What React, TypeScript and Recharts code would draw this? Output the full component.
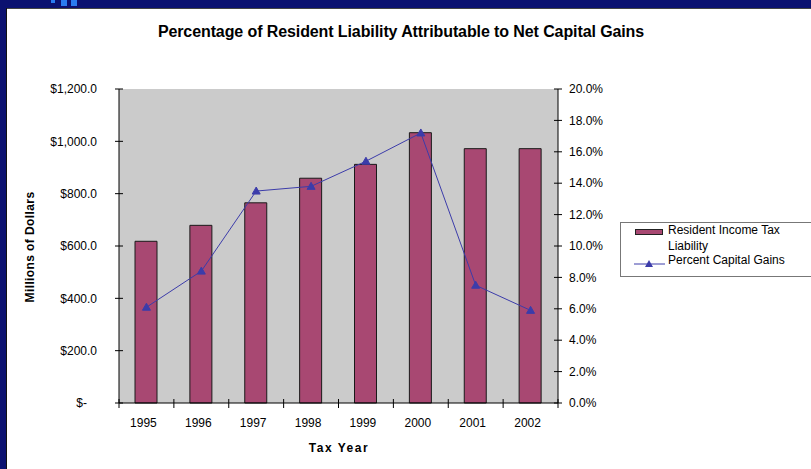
import { Bar, CartesianGrid, ComposedChart, Legend, Line, XAxis, YAxis } from "recharts";

const years = ["1995", "1996", "1997", "1998", "1999", "2000", "2001", "2002"];
const liability = [618, 679, 765, 859, 912, 1033, 972, 972];
const pctGains = [6.1, 8.4, 13.5, 13.8, 15.4, 17.2, 7.5, 5.9];
const dollarTicks = [0, 200, 400, 600, 800, 1000, 1200];
const pctTicks = [0, 2, 4, 6, 8, 10, 12, 14, 16, 18, 20];

const data = years.map((y, i) => ({ year: y, liability: liability[i], pct: pctGains[i] }));

const FONT = '"Liberation Sans", Arial, sans-serif';
const BAR = "#a84872";
const LINE = "#3c3caa";

const fmtDollar = (v: number) =>
  v === 0 ? "$-" : "$" + v.toLocaleString("en-US", { minimumFractionDigits: 1, maximumFractionDigits: 1 });

function LeftTick(props: any) {
  const { x, y, payload } = props;
  return (
    <g>
      <line x1={x - 4} x2={x + 4} y1={y} y2={y} stroke="#000" />
      <text x={x - (payload.value === 0 ? 32 : 22)} y={y} dy="0.35em" textAnchor="end" fontSize={12} fill="#000" fontFamily={FONT}>
        {fmtDollar(payload.value)}
      </text>
    </g>
  );
}

function RightTick(props: any) {
  const { x, y, payload } = props;
  return (
    <g>
      <line x1={x - 4} x2={x + 4} y1={y} y2={y} stroke="#000" />
      <text x={x + 11} y={y} dy="0.35em" textAnchor="start" fontSize={12} fill="#000" fontFamily={FONT}>
        {payload.value.toFixed(1) + "%"}
      </text>
    </g>
  );
}

function YearTick(props: any) {
  const { x, y, payload, index } = props;
  const half = payload.offset || 27.4;
  return (
    <g>
      <line x1={x - half} x2={x - half} y1={y - 4} y2={y + 5} stroke="#000" />
      {index === years.length - 1 && <line x1={x + half} x2={x + half} y1={y - 4} y2={y + 5} stroke="#000" />}
      <text x={x - 3} y={y + 24} textAnchor="middle" fontSize={12} fill="#000" fontFamily={FONT}>
        {payload.value}
      </text>
    </g>
  );
}

function Tri(props: any) {
  const { cx, cy } = props;
  if (cx == null || cy == null) return null;
  return <polygon points={`${cx},${cy - 4} ${cx - 4},${cy + 3} ${cx + 4},${cy + 3}`} fill={LINE} stroke={LINE} />;
}

function LegendBox() {
  return (
    <div
      style={{
        width: 200,
        height: 53,
        border: "1px solid #777",
        background: "#fff",
        fontFamily: FONT,
        fontSize: 12,
        position: "relative",
        color: "#000",
      }}
    >
      <div style={{ position: "absolute", left: 14, top: 6, width: 26, height: 4, background: BAR, border: "1px solid #222" }} />
      <div style={{ position: "absolute", left: 47, top: -1, lineHeight: "16px", width: 130 }}>
        Resident Income Tax
        <br />
        Liability
      </div>
      <svg style={{ position: "absolute", left: 13, top: 36 }} width={32} height={10}>
        <line x1={0} x2={31} y1={5} y2={5} stroke={LINE} />
        <polygon points="15,1 11,8 19,8" fill={LINE} />
      </svg>
      <div style={{ position: "absolute", left: 47, top: 29, lineHeight: "16px" }}>Percent Capital Gains</div>
    </div>
  );
}

export default function App() {
  return (
    <div style={{ position: "absolute", left: 0, top: 0, width: 811, height: 469, background: "#fff", overflow: "hidden", fontFamily: FONT }}>
      <div style={{ position: "absolute", left: 0, top: 0, width: 811, height: 8, background: "#0b1170" }} />
      <div style={{ position: "absolute", left: 0, top: 8, width: 811, height: 1, background: "#444" }} />
      <div style={{ position: "absolute", left: 0, top: 0, width: 6, height: 469, background: "#0b1170" }} />
      <div style={{ position: "absolute", left: 6, top: 8, width: 1, height: 461, background: "#111" }} />
      <div style={{ position: "absolute", left: 51, top: 0, width: 4, height: 3, background: "#2a7cf0" }} />
      <div style={{ position: "absolute", left: 61, top: 0, width: 6, height: 6, background: "#2a7cf0" }} />
      <div style={{ position: "absolute", left: 71, top: 0, width: 6, height: 6, background: "#2a7cf0" }} />

      <div
        style={{
          position: "absolute",
          left: 0,
          width: 802,
          top: 23,
          textAlign: "center",
          fontWeight: "bold",
          fontSize: 16,
          letterSpacing: -0.1,
          color: "#000",
        }}
      >
        Percentage of Resident Liability Attributable to Net Capital Gains
      </div>

      <div style={{ position: "absolute", left: 0, top: 0 }}>
        <ComposedChart width={811} height={469} data={data} margin={{ top: 89, right: 203, bottom: 36, left: 59 }}>
          <CartesianGrid fill="#cbcbcb" stroke="none" horizontal={false} vertical={false} />
          <XAxis dataKey="year" tickLine={false} tickSize={0} tickMargin={0} height={30} axisLine={{ stroke: "#000" }} tick={<YearTick />} interval={0} />
          <YAxis
            yAxisId="left"
            domain={[0, 1200]}
            ticks={dollarTicks}
            width={60}
            tickLine={false}
            tickSize={0}
            tickMargin={0}
            axisLine={{ stroke: "#000" }}
            tick={<LeftTick />}
          />
          <YAxis
            yAxisId="right"
            orientation="right"
            domain={[0, 20]}
            ticks={pctTicks}
            width={50}
            tickLine={false}
            tickSize={0}
            tickMargin={0}
            axisLine={{ stroke: "#000" }}
            tick={<RightTick />}
          />
          <Legend
            layout="vertical"
            align="center"
            verticalAlign="middle"
            content={() => <LegendBox />}
            wrapperStyle={{ left: 620, top: 222, width: 200 }}
          />
          <Bar yAxisId="left" dataKey="liability" name="Resident Income Tax Liability" barSize={22} fill={BAR} stroke="#1a1a1a" strokeWidth={1} isAnimationActive={false} />
          <Line
            yAxisId="right"
            dataKey="pct"
            name="Percent Capital Gains"
            stroke={LINE}
            strokeWidth={1}
            dot={<Tri />}
            activeDot={false}
            isAnimationActive={false}
          />
        </ComposedChart>
      </div>

      <div
        style={{
          position: "absolute",
          left: 30 - 70,
          top: 247 - 8,
          width: 140,
          height: 16,
          lineHeight: "16px",
          textAlign: "center",
          transform: "rotate(-90deg)",
          fontWeight: "bold",
          fontSize: 12,
          letterSpacing: 0.4,
          color: "#000",
        }}
      >
        Millions of Dollars
      </div>
      <div
        style={{
          position: "absolute",
          left: 339 - 60,
          top: 440,
          width: 120,
          lineHeight: "16px",
          textAlign: "center",
          fontWeight: "bold",
          fontSize: 12,
          letterSpacing: 1.5,
          color: "#000",
        }}
      >
        Tax Year
      </div>
    </div>
  );
}
